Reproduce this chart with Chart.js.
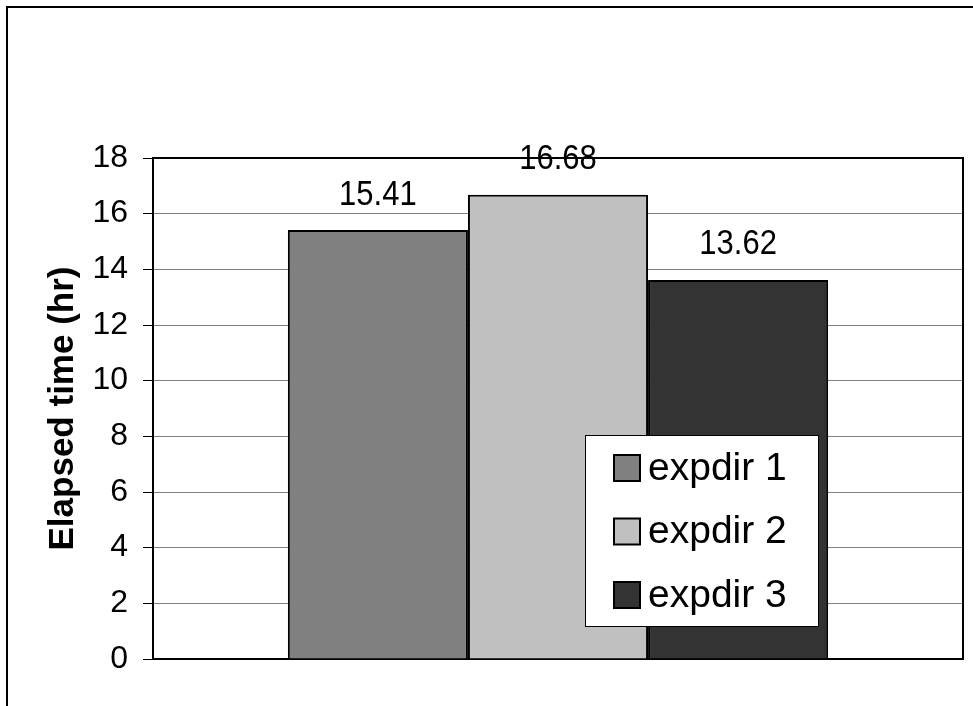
<!DOCTYPE html>
<html>
<head>
<meta charset="utf-8">
<script src="https://cdn.jsdelivr.net/npm/chart.js@4/dist/chart.umd.min.js"></script>
<style>
  html, body { margin: 0; padding: 0; background: #fff; }
  #wrap { width: 973px; height: 706px; position: relative; }
</style>
</head>
<body>
<div id="wrap"><canvas id="grafico" width="973" height="706"></canvas></div>
<script>
const categorias = [''];
const series = ['expdir 1', 'expdir 2', 'expdir 3'];
const valores = [15.41, 16.68, 13.62];
const colores = ['#808080', '#c0c0c0', '#333333'];
const ticksY = [0, 2, 4, 6, 8, 10, 12, 14, 16, 18];

const FUENTE = '"Liberation Sans", Arial, sans-serif';

// marco exterior (solo arriba e izquierda)
const marco = {
  id: 'marco',
  beforeDraw(chart) {
    const c = chart.ctx;
    c.save();
    c.fillStyle = '#fff';
    c.fillRect(0, 0, chart.width, chart.height);
    c.strokeStyle = '#000';
    c.lineWidth = 2;
    c.beginPath();
    c.moveTo(7, chart.height);
    c.lineTo(7, 7);
    c.lineTo(chart.width, 7);
    c.stroke();
    c.restore();
  },
  beforeDatasetsDraw(chart) {
    const a = chart.chartArea;
    const c = chart.ctx;
    c.save();
    c.strokeStyle = '#000';
    c.lineWidth = 2;
    c.strokeRect(a.left, a.top, a.right - a.left, a.bottom - a.top);
    c.restore();
  }
};

// valores encima de cada barra (algo estirados en vertical)
const etiquetas = {
  id: 'etiquetas',
  afterDatasetsDraw(chart) {
    const c = chart.ctx;
    chart.data.datasets.forEach((ds, i) => {
      chart.getDatasetMeta(i).data.forEach((bar, j) => {
        c.save();
        c.translate(bar.x, bar.y - 35);
        c.scale(1, 1.12);
        c.font = '31px ' + FUENTE;
        c.fillStyle = '#000';
        c.textAlign = 'center';
        c.textBaseline = 'middle';
        c.fillText(ds.data[j].toFixed(2), 0, 0);
        c.restore();
      });
    });
  }
};

// leyenda dentro del área del gráfico
const leyenda = {
  id: 'leyenda',
  afterDraw(chart) {
    const c = chart.ctx;
    const x = 585, y = 435, w = 233, h = 191;
    c.save();
    c.fillStyle = '#fff';
    c.fillRect(x, y, w, h);
    c.strokeStyle = '#000';
    c.lineWidth = 1;
    c.strokeRect(x + 0.5, y + 0.5, w, h);
    c.font = '39px ' + FUENTE;
    c.textBaseline = 'middle';
    chart.data.datasets.forEach((ds, i) => {
      const cy = y + 33 + i * 63.5;
      c.fillStyle = ds.backgroundColor;
      c.fillRect(x + 29, cy - 13, 26, 26);
      c.lineWidth = 2;
      c.strokeRect(x + 29, cy - 13, 26, 26);
      c.fillStyle = '#000';
      c.fillText(ds.label, x + 63, cy + 1);
    });
    c.restore();
  }
};

new Chart(document.getElementById('grafico'), {
  type: 'bar',
  data: {
    labels: categorias,
    datasets: series.map((nombre, i) => ({
      label: nombre,
      data: [valores[i]],
      backgroundColor: colores[i],
      borderColor: '#000',
      borderWidth: 2,
      categoryPercentage: 0.667,
      barPercentage: 1.0
    }))
  },
  options: {
    responsive: false,
    animation: false,
    layout: { padding: { left: 30, right: 10, top: 158, bottom: 47 } },
    plugins: {
      legend: { display: false },
      tooltip: { enabled: false }
    },
    scales: {
      x: {
        display: false
      },
      y: {
        min: 0,
        max: 18,
        afterFit: s => { s.width = 123; },
        afterBuildTicks: s => { s.ticks = ticksY.map(v => ({ value: v })); },
        grid: {
          color: '#808080',
          lineWidth: 1,
          tickLength: 10,
          tickColor: '#000',
          drawTicks: true
        },
        border: { display: false },
        ticks: {
          color: '#000',
          padding: 15,
          font: { family: FUENTE, size: 32 }
        },
        title: {
          display: true,
          text: 'Elapsed time (hr)',
          color: '#000',
          padding: { top: 12, bottom: 0 },
          font: { family: FUENTE, size: 35, weight: 'bold' }
        }
      }
    }
  },
  plugins: [marco, etiquetas, leyenda]
});
</script>
</body>
</html>
